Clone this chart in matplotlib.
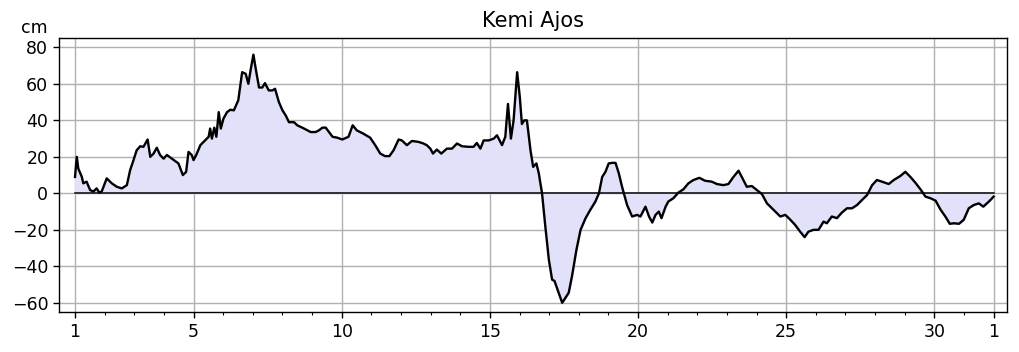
import numpy as np
import matplotlib
matplotlib.use("Agg")
import matplotlib.pyplot as plt

# Vedenkorkeus, Kemi Ajos (cm), luettu kuvasta
days = [
    1.00, 1.06, 1.11, 1.23, 1.28, 1.39, 1.51, 1.62, 1.73, 1.82, 1.90, 2.07, 2.24, 2.41,
    2.58, 2.75, 2.86, 2.97, 3.08, 3.20, 3.31, 3.45, 3.54, 3.65, 3.76, 3.87, 3.99, 4.10,
    4.27, 4.49, 4.64, 4.75, 4.83, 4.94, 5.00, 5.09, 5.23, 5.39, 5.51, 5.56, 5.62, 5.70,
    5.77, 5.85, 5.92, 6.01, 6.13, 6.24, 6.36, 6.51, 6.64, 6.76, 6.85, 6.93, 7.02, 7.09,
    7.21, 7.32, 7.41, 7.54, 7.66, 7.75, 7.88, 8.00, 8.11, 8.22, 8.39, 8.50, 8.73, 8.95,
    9.12, 9.23, 9.35, 9.46, 9.57, 9.69, 9.85, 10.02, 10.23, 10.37, 10.51, 10.73, 10.96,
    11.13, 11.30, 11.46, 11.61, 11.75, 11.92, 12.03, 12.20, 12.37, 12.59, 12.76, 12.87,
    12.99, 13.08, 13.21, 13.36, 13.55, 13.72, 13.89, 14.06, 14.28, 14.45, 14.56, 14.68,
    14.79, 14.96, 15.13, 15.24, 15.33, 15.41, 15.52, 15.61, 15.71, 15.80, 15.92, 16.01,
    16.08, 16.16, 16.25, 16.37, 16.46, 16.57, 16.65, 16.76, 16.87, 16.99, 17.10, 17.18,
    17.32, 17.44, 17.55, 17.66, 17.77, 17.92, 18.06, 18.23, 18.39, 18.56, 18.68, 18.79,
    18.90, 19.01, 19.13, 19.24, 19.35, 19.46, 19.63, 19.80, 19.97, 20.08, 20.25, 20.37,
    20.48, 20.59, 20.70, 20.79, 20.93, 21.02, 21.19, 21.36, 21.53, 21.70, 21.87, 22.07,
    22.26, 22.49, 22.66, 22.88, 23.05, 23.22, 23.39, 23.50, 23.67, 23.84, 24.01, 24.18,
    24.35, 24.57, 24.80, 24.97, 25.14, 25.30, 25.47, 25.62, 25.75, 25.92, 26.09, 26.26,
    26.37, 26.54, 26.71, 26.88, 27.05, 27.22, 27.39, 27.56, 27.73, 27.90, 28.06, 28.23,
    28.46, 28.63, 28.85, 29.02, 29.19, 29.36, 29.53, 29.70, 29.87, 30.04, 30.21, 30.37,
    30.52, 30.66, 30.83, 30.99, 31.16, 31.33, 31.50, 31.65, 31.84, 32.00,
]
level_cm = [
    9.0, 20.0, 13.6, 9.0, 5.5, 6.4, 1.8, 1.0, 2.7, 0.4, 1.0, 8.2, 5.5, 3.6,
    2.7, 4.5, 12.7, 18.0, 23.6, 25.8, 25.5, 29.5, 20.0, 21.8, 25.0, 21.0, 19.0, 21.0,
    19.0, 16.4, 10.0, 11.8, 22.7, 21.0, 18.2, 21.0, 26.4, 29.0, 31.0, 35.5, 30.0, 36.0,
    31.0, 44.5, 35.5, 41.0, 44.5, 45.8, 45.5, 51.0, 66.4, 65.5, 60.0, 68.0, 76.0, 69.0,
    58.0, 58.0, 60.4, 56.4, 56.4, 57.3, 50.0, 45.5, 42.7, 39.0, 39.0, 37.3, 35.5, 33.6,
    33.6, 34.5, 36.0, 36.0, 33.6, 31.0, 30.5, 29.5, 31.0, 37.3, 34.5, 32.7, 30.5,
    26.4, 21.8, 20.4, 20.4, 23.6, 29.5, 29.0, 26.4, 28.7, 28.2, 27.3, 26.4,
    24.5, 21.8, 24.0, 21.8, 24.5, 24.5, 27.3, 25.8, 25.5, 25.5, 27.6, 24.5,
    29.0, 29.0, 30.0, 31.8, 29.0, 26.4, 31.0, 49.0, 30.0, 40.0, 66.4, 52.7,
    38.0, 40.0, 40.0, 23.6, 14.5, 16.4, 11.0, 0.0, -18.0, -36.4, -47.3, -48.0,
    -54.5, -60.0, -57.3, -54.5, -45.5, -31.0, -20.0, -13.6, -9.0, -4.5, 0.0, 9.0,
    11.8, 16.4, 16.7, 16.7, 11.0, 3.6, -6.4, -12.7, -11.8, -12.7, -7.3, -12.7,
    -16.0, -11.8, -10.0, -13.6, -7.3, -4.5, -2.7, 0.4, 2.2, 5.5, 7.3, 8.5,
    6.9, 6.4, 5.1, 4.5, 5.1, 9.0, 12.4, 9.0, 3.6, 4.0, 1.8, -0.4,
    -5.5, -9.0, -12.7, -11.8, -14.5, -17.3, -21.0, -24.0, -21.0, -20.0, -20.0, -15.5,
    -16.4, -12.7, -13.6, -10.5, -8.2, -8.2, -6.4, -3.6, -0.9, 4.5, 7.3, 6.4,
    5.1, 7.3, 9.5, 11.8, 9.0, 5.8, 2.2, -1.8, -2.7, -4.0, -9.0, -12.7,
    -16.7, -16.4, -16.7, -14.5, -8.2, -6.4, -5.5, -7.3, -4.5, -1.8,
]

tick_days = [1, 5, 10, 15, 20, 25, 30, 32]
tick_labels = ["1", "5", "10", "15", "20", "25", "30", "1"]
y_ticks = [-60, -40, -20, 0, 20, 40, 60, 80]

days = np.array(days)
level_cm = np.array(level_cm)

fig = plt.figure(figsize=(10.19, 3.52), dpi=100)
ax = fig.add_axes([0.0582, 0.1128, 0.9303, 0.7801])

ax.fill_between(days, level_cm, 0, color="#e1e1f9", zorder=2)
ax.plot([days[0], days[-1]], [0, 0], color="black", linewidth=1.1, zorder=3)
ax.plot(days, level_cm, color="black", linewidth=1.7, zorder=4)

ax.set_xlim(0.47, 32.46)
ax.set_ylim(-65.2, 85.3)
ax.set_xticks(tick_days)
ax.set_xticklabels(tick_labels)
ax.set_xticks(np.arange(1, 33), minor=True)
ax.set_yticks(y_ticks)
ax.tick_params(axis="both", which="major", labelsize=12.5, length=4.4, width=1.0)
ax.tick_params(axis="x", which="minor", length=2.5, width=0.8)
for s in ax.spines.values():
    s.set_linewidth(1.0)

ax.grid(True, which="major", color="#b0b0b0", linewidth=1.0, zorder=1)
ax.set_axisbelow(True)

ax.set_title("Kemi Ajos", fontsize=15, pad=7.5)
ax.text(-0.026, 1.036, "cm", transform=ax.transAxes, ha="center", va="center", fontsize=12.5)

fig.savefig("out.png", dpi=100)
